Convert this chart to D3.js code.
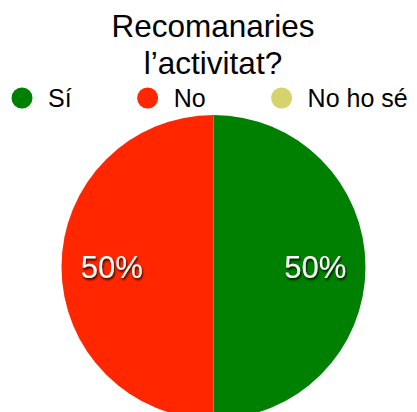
<!DOCTYPE html>
<html>
<head>
<meta charset="utf-8">
<script src="https://cdn.jsdelivr.net/npm/d3@7"></script>
<style>
  body { margin: 0; background: #fff; }
  text { font-family: "Liberation Sans", Arial, Helvetica, sans-serif; }
</style>
</head>
<body>
<div id="chart"></div>
<script>
// chart data
var titleLines = ["Recomanaries", "l\u2019activitat?"];
var categories = ["Sí", "No", "No ho sé"];
var values = [50, 50, 0];
var colors = ["#008000", "#ff2600", "#d5d36b"];

var svgWidth = 417;
var svgHeight = 412;

var svg = d3.select("#chart")
    .append("svg")
    .attr("width", svgWidth)
    .attr("height", svgHeight);

// drop shadow for the slice labels
var filter = svg.append("defs").append("filter")
    .attr("id", "shadow")
    .attr("x", "-20%").attr("y", "-20%")
    .attr("width", "140%").attr("height", "160%");
filter.append("feDropShadow")
    .attr("dx", 1)
    .attr("dy", 2)
    .attr("stdDeviation", 1.3)
    .attr("flood-color", "#000")
    .attr("flood-opacity", 0.85);

// title
svg.selectAll(".title")
    .data(titleLines)
    .enter()
    .append("text")
    .attr("class", "title")
    .attr("x", 213)
    .attr("y", (d, i) => 37 + i * 37)
    .attr("text-anchor", "middle")
    .attr("font-size", "31.5px")
    .attr("fill", "#000")
    .text(d => d);

// legend, items laid out one after another
var legend = svg.selectAll(".legend")
    .data(categories)
    .enter()
    .append("g")
    .attr("class", "legend");

legend.append("circle")
    .attr("r", 10.5)
    .attr("fill", (d, i) => colors[i]);

legend.append("text")
    .attr("x", 26)
    .attr("y", 8.5)
    .attr("font-size", "25px")
    .attr("fill", "#000")
    .text(d => d);

var lx = 22;
legend.each(function() {
    var g = d3.select(this);
    g.attr("transform", `translate(${lx}, 98)`);
    lx += 26 + g.select("text").node().getComputedTextLength() + 76;
});

// pie
var cx = 213.5, cy = 267, radius = 152;

var pie = d3.pie()
    .sort(null)
    .value(d => d.value);

var data = categories.map((c, i) => ({ name: c, value: values[i], color: colors[i] }));
var arcs = pie(data).filter(d => d.data.value > 0);

var arc = d3.arc()
    .innerRadius(0)
    .outerRadius(radius);

var labelArc = d3.arc()
    .innerRadius(radius * 0.67)
    .outerRadius(radius * 0.67);

var pieGroup = svg.append("g")
    .attr("transform", `translate(${cx}, ${cy})`);

pieGroup.selectAll("path")
    .data(arcs)
    .enter()
    .append("path")
    .attr("d", arc)
    .attr("fill", d => d.data.color);

var total = d3.sum(values);

pieGroup.selectAll(".label")
    .data(arcs)
    .enter()
    .append("text")
    .attr("class", "label")
    .attr("transform", d => `translate(${labelArc.centroid(d)})`)
    .attr("dy", "0.36em")
    .attr("text-anchor", "middle")
    .attr("font-size", "31px")
    .attr("fill", "#fff")
    .attr("filter", "url(#shadow)")
    .text(d => Math.round(d.data.value / total * 100) + "%");
</script>
</body>
</html>
